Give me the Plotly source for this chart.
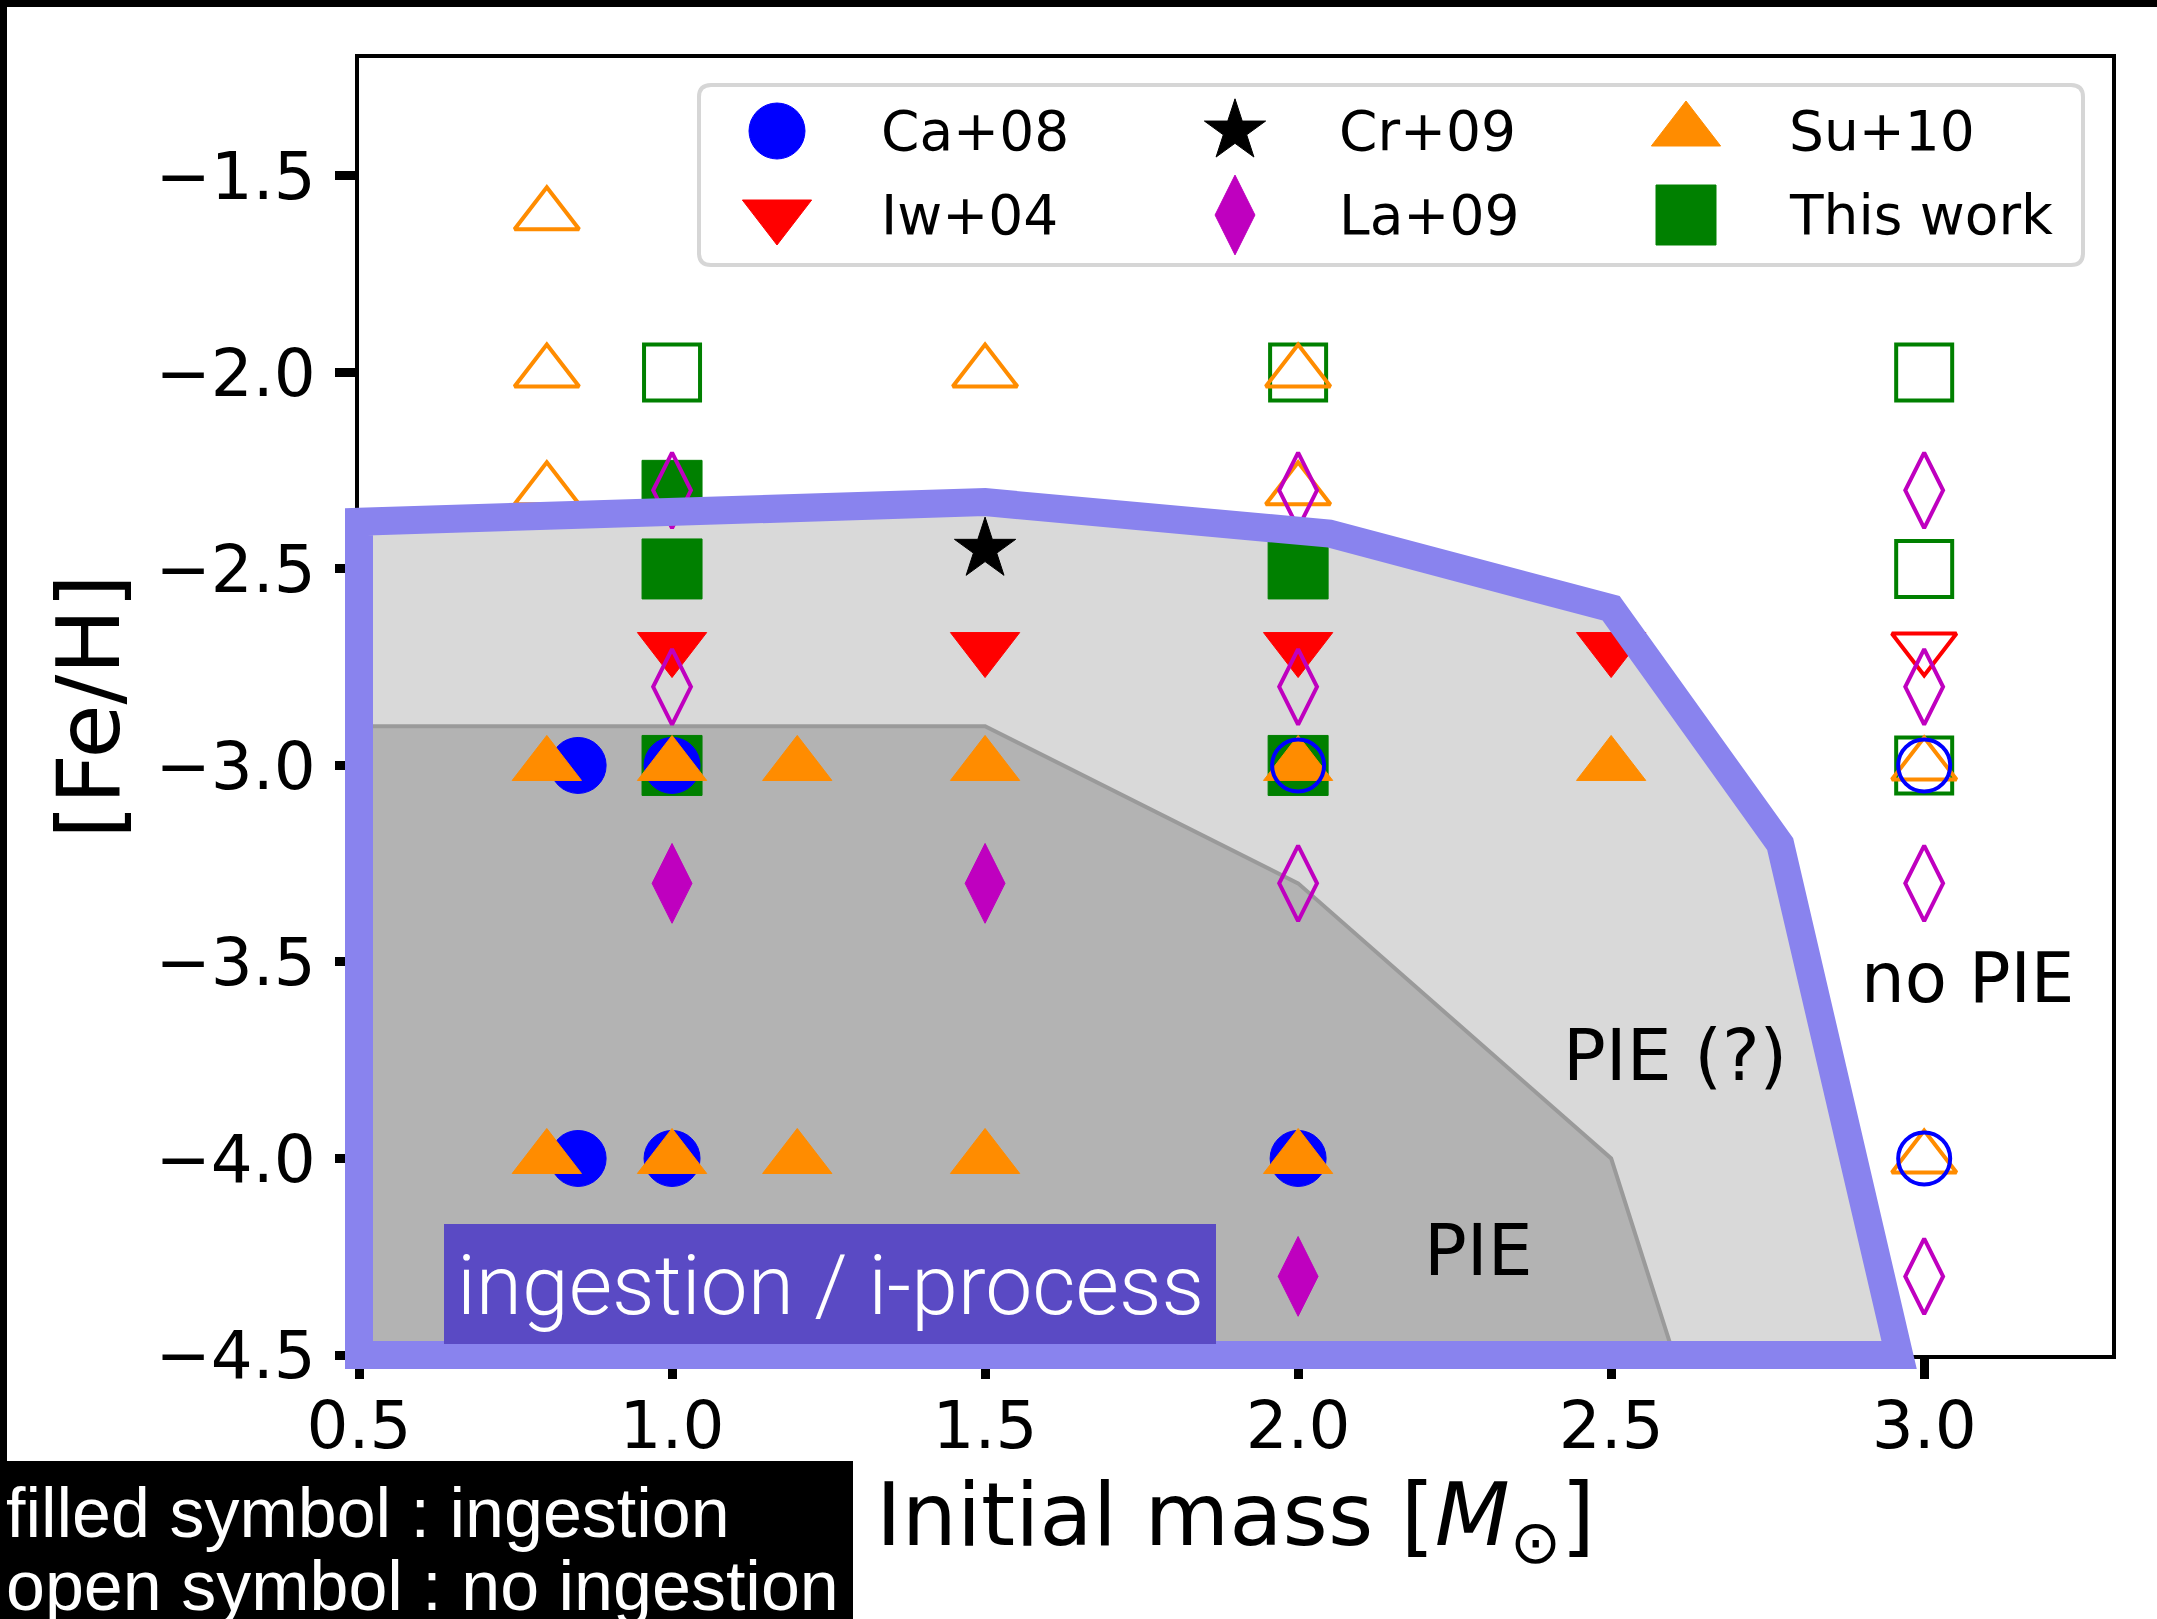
import plotly.graph_objects as go

# ---------------------------------------------------------------- data
X_RANGE = [0.5, 3.3]
Y_RANGE = [-4.5, -1.2]
X_TICKS = [0.5, 1.0, 1.5, 2.0, 2.5, 3.0]
Y_TICKS = [-4.5, -4.0, -3.5, -3.0, -2.5, -2.0, -1.5]

# Ca+08 (circles)
ca08_filled_mass = [0.85, 0.85, 1.0, 1.0, 2.0]
ca08_filled_feh = [-3.0, -4.0, -3.0, -4.0, -4.0]
ca08_open_mass = [2.0, 3.0, 3.0]
ca08_open_feh = [-3.0, -3.0, -4.0]

# Iw+04 (down triangles)
iw04_filled_mass = [1.0, 1.5, 2.0, 2.5]
iw04_filled_feh = [-2.7, -2.7, -2.7, -2.7]
iw04_open_mass = [3.0]
iw04_open_feh = [-2.7]

# Cr+09 (star)
cr09_filled_mass = [1.5]
cr09_filled_feh = [-2.45]

# La+09 (thin diamonds)
la09_filled_mass = [1.0, 1.5, 2.0]
la09_filled_feh = [-3.3, -3.3, -4.3]
la09_open_mass = [1.0, 1.0, 2.0, 2.0, 2.0, 3.0, 3.0, 3.0, 3.0]
la09_open_feh = [-2.3, -2.8, -2.3, -2.8, -3.3, -2.3, -2.8, -3.3, -4.3]

# Su+10 (up triangles)
su10_filled_mass = [0.8, 0.8, 1.0, 1.0, 1.2, 1.2, 1.5, 1.5, 2.0, 2.0, 2.5]
su10_filled_feh = [-3.0, -4.0, -3.0, -4.0, -3.0, -4.0, -3.0, -4.0, -3.0, -4.0, -3.0]
su10_open_mass = [0.8, 0.8, 0.8, 1.5, 2.0, 2.0, 3.0, 3.0]
su10_open_feh = [-1.6, -2.0, -2.3, -2.0, -2.0, -2.3, -3.0, -4.0]

# This work (squares)
tw_filled_mass = [1.0, 1.0, 1.0, 2.0, 2.0]
tw_filled_feh = [-2.3, -2.5, -3.0, -2.5, -3.0]
tw_open_mass = [1.0, 2.0, 3.0, 3.0, 3.0]
tw_open_feh = [-2.0, -2.0, -2.0, -2.5, -3.0]

# Region boundaries
pie_q_mass = [0.5, 1.5, 2.05, 2.5, 2.77, 2.96, 0.5]
pie_q_feh = [-2.38, -2.33, -2.41, -2.6, -3.2, -4.5, -4.5]
pie_mass = [0.5, 1.5, 2.0, 2.5, 2.6, 0.5]
pie_feh = [-2.9, -2.9, -3.3, -4.0, -4.5, -4.5]

legend_labels = ["Ca+08", "Cr+09", "Su+10", "Iw+04", "La+09", "This work"]

# ---------------------------------------------------------------- style
FIG_W, FIG_H = 2157, 1619
ML, MR, MT, MB = 359, 45, 58, 264
PW = FIG_W - ML - MR
PH = FIG_H - MT - MB

BLUE = "#0000ff"
RED = "#ff0000"
ORANGE = "#ff8c00"
MAGENTA = "#bf00bf"
GREEN = "#008000"
BLACK = "#000000"
LAVENDER = "#8983ee"
PURPLE = "#5a4ac4"

AX_FONT = "DejaVu Sans"

STYLE = {
    "Ca+08": dict(symbol="circle", color=BLUE, size=56, osize=52),
    "Iw+04": dict(symbol="triangle-down", color=RED, size=60, osize=56),
    "Cr+09": dict(symbol="star", color=BLACK, size=46, osize=46),
    "La+09": dict(symbol="diamond-tall", color=MAGENTA, size=57, osize=54),
    "Su+10": dict(symbol="triangle-up", color=ORANGE, size=60, osize=56),
    "This work": dict(symbol="square", color=GREEN, size=60, osize=56),
}


def fx(px):
    """figure pixel column -> paper fraction"""
    return (px - ML) / PW


def fy(py):
    """figure pixel row -> paper fraction"""
    return (FIG_H - MB - py) / PH


def dx(x):
    return (x - X_RANGE[0]) / (X_RANGE[1] - X_RANGE[0])


def dy(y):
    return (y - Y_RANGE[0]) / (Y_RANGE[1] - Y_RANGE[0])


def poly_path(xs, ys):
    pts = [f"{dx(x):.5f},{dy(y):.5f}" for x, y in zip(xs, ys)]
    return "M" + " L".join(pts) + " Z"


fig = go.Figure()


def add_points(name, xs, ys, filled):
    st = STYLE[name]
    if filled:
        marker = dict(symbol=st["symbol"], size=st["size"], color=st["color"],
                      line=dict(color=st["color"], width=1))
    else:
        marker = dict(symbol=st["symbol"] + "-open", size=st["osize"],
                      color=st["color"], line=dict(color=st["color"], width=4))
    fig.add_trace(go.Scatter(x=xs, y=ys, mode="markers", marker=marker,
                             name=name, showlegend=False, cliponaxis=False,
                             hoverinfo="x+y+name"))


# filled symbols: ingestion
add_points("This work", tw_filled_mass, tw_filled_feh, True)
add_points("Ca+08", ca08_filled_mass, ca08_filled_feh, True)
add_points("Su+10", su10_filled_mass, su10_filled_feh, True)
add_points("Iw+04", iw04_filled_mass, iw04_filled_feh, True)
add_points("La+09", la09_filled_mass, la09_filled_feh, True)
add_points("Cr+09", cr09_filled_mass, cr09_filled_feh, True)
# open symbols: no ingestion
add_points("This work", tw_open_mass, tw_open_feh, False)
add_points("Su+10", su10_open_mass, su10_open_feh, False)
add_points("Ca+08", ca08_open_mass, ca08_open_feh, False)
add_points("Iw+04", iw04_open_mass, iw04_open_feh, False)
add_points("La+09", la09_open_mass, la09_open_feh, False)

# ---------------------------------------------------------------- legend (3 columns x 2 rows)
leg_col_marker = [fx(777), fx(1235), fx(1686)]
leg_col_text = [fx(879), fx(1337), fx(1787)]
leg_row = [fy(131), fy(215)]
for i, lab in enumerate(legend_labels):
    r, c = divmod(i, 3)
    st = STYLE[lab]
    fig.add_trace(go.Scatter(
        x=[leg_col_marker[c]], y=[leg_row[r]], mode="markers", xaxis="x2", yaxis="y2",
        marker=dict(symbol=st["symbol"], size=st["size"], color=st["color"],
                    line=dict(color=st["color"], width=1)),
        showlegend=False, hoverinfo="skip", cliponaxis=False))

annotations = []
for i, lab in enumerate(legend_labels):
    r, c = divmod(i, 3)
    annotations.append(dict(x=leg_col_text[c], y=leg_row[r], xref="paper", yref="paper",
                            text=lab, showarrow=False, xanchor="left", yanchor="middle",
                            font=dict(family=AX_FONT, size=55, color="black")))

# rounded legend frame
lx0, lx1, ly0, ly1 = fx(699), fx(2083), fy(265), fy(85)
rx, ry = 12 / PW, 12 / PH
leg_path = (f"M{lx0+rx},{ly0} L{lx1-rx},{ly0} Q{lx1},{ly0} {lx1},{ly0+ry} "
            f"L{lx1},{ly1-ry} Q{lx1},{ly1} {lx1-rx},{ly1} L{lx0+rx},{ly1} "
            f"Q{lx0},{ly1} {lx0},{ly1-ry} L{lx0},{ly0+ry} Q{lx0},{ly0} {lx0+rx},{ly0} Z")

shapes = [
    # light region: PIE (?)
    dict(type="path", xref="paper", yref="paper", layer="below",
         path=poly_path(pie_q_mass, pie_q_feh), fillcolor="#d9d9d9", line=dict(width=0)),
    # dark region: PIE
    dict(type="path", xref="paper", yref="paper", layer="below",
         path=poly_path(pie_mass, pie_feh), fillcolor="#b3b3b3",
         line=dict(color="#9a9a9a", width=4)),
    dict(type="path", xref="paper", yref="paper", layer="below", path=leg_path,
         fillcolor="white", line=dict(color="#d6d6d6", width=4)),
    # ingestion outline
    dict(type="path", xref="paper", yref="paper", layer="above",
         path=poly_path(pie_q_mass, pie_q_feh), fillcolor="rgba(0,0,0,0)",
         line=dict(color=LAVENDER, width=28)),
    # label box
    dict(type="rect", xref="paper", yref="paper", layer="above",
         x0=fx(444), x1=fx(1216), y0=fy(1344), y1=fy(1224),
         fillcolor=PURPLE, line=dict(width=0)),
    # page frame
    dict(type="rect", xref="paper", yref="paper", layer="above",
         x0=fx(0), x1=fx(FIG_W), y0=fy(7), y1=fy(0), fillcolor="black", line=dict(width=0)),
    dict(type="rect", xref="paper", yref="paper", layer="above",
         x0=fx(0), x1=fx(7), y0=fy(FIG_H), y1=fy(0), fillcolor="black", line=dict(width=0)),
    # key box
    dict(type="rect", xref="paper", yref="paper", layer="above",
         x0=fx(0), x1=fx(853), y0=fy(FIG_H), y1=fy(1461), fillcolor="black", line=dict(width=0)),
]

annotations += [
    dict(x=2.288, y=-4.235, xref="x", yref="y", text="PIE", showarrow=False,
         font=dict(family=AX_FONT, size=71, color="black")),
    dict(x=2.602, y=-3.737, xref="x", yref="y", text="PIE (?)", showarrow=False,
         font=dict(family=AX_FONT, size=71, color="black")),
    dict(x=3.069, y=-3.541, xref="x", yref="y", text="no PIE", showarrow=False,
         font=dict(family=AX_FONT, size=69, color="black")),
    dict(x=fx(830), y=fy(1285), xref="paper", yref="paper", text="ingestion / i-process",
         showarrow=False, xanchor="center", yanchor="middle",
         font=dict(family="Roboto", size=84, color="white", weight=300)),
    dict(x=fx(4), y=fy(1513), xref="paper", yref="paper", text="filled symbol : ingestion",
         showarrow=False, xanchor="left", yanchor="middle",
         font=dict(family="Liberation Sans", size=70, color="white")),
    dict(x=fx(4), y=fy(1586), xref="paper", yref="paper", text="open symbol : no ingestion",
         showarrow=False, xanchor="left", yanchor="middle",
         font=dict(family="Liberation Sans", size=70, color="white")),
]

axis_common = dict(showline=True, mirror=True, linecolor="black", linewidth=4,
                   ticks="outside", ticklen=20, tickwidth=9, tickcolor="black",
                   showgrid=False, zeroline=False, automargin=False,
                   tickfont=dict(family=AX_FONT, size=66, color="black"))

fig.update_layout(
    width=FIG_W, height=FIG_H,
    margin=dict(l=ML, r=MR, t=MT, b=MB, pad=0),
    paper_bgcolor="white", plot_bgcolor="rgba(0,0,0,0)",
    showlegend=False,
    xaxis=dict(range=X_RANGE, tickvals=X_TICKS, tickformat=".1f", ticklabelstandoff=-10,
               title=dict(text="Initial mass [<i>M</i><sub>⊙</sub>]", standoff=12,
                          font=dict(family=AX_FONT, size=87, color="black")),
               **axis_common),
    yaxis=dict(range=Y_RANGE, tickvals=Y_TICKS, tickformat=".1f", ticklabelstandoff=6,
               title=dict(text="[Fe/H]", standoff=8,
                          font=dict(family=AX_FONT, size=88, color="black")),
               **axis_common),
    xaxis2=dict(overlaying="x", range=[0, 1], visible=False),
    yaxis2=dict(overlaying="y", range=[0, 1], visible=False),
    shapes=shapes,
    annotations=annotations,
)

fig.write_html("out.html")
